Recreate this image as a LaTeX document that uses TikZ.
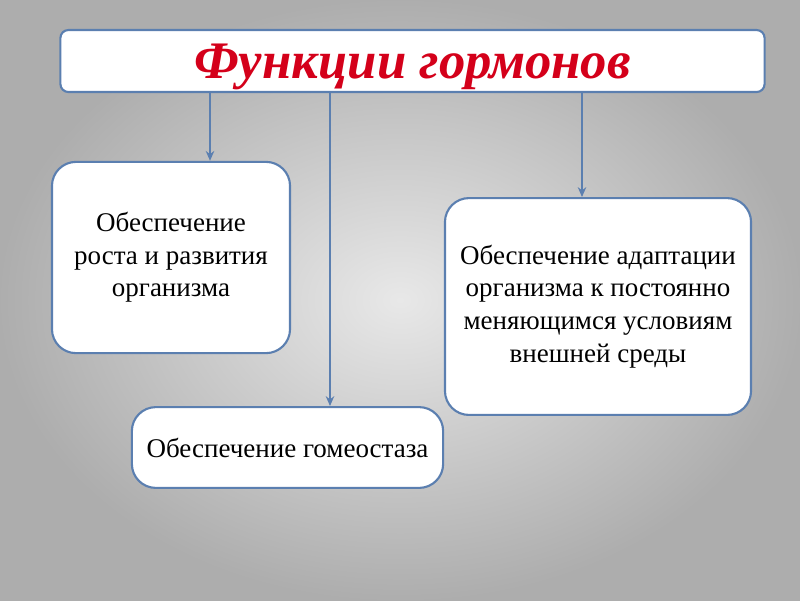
\documentclass[tikz,border=0pt]{standalone}
\usepackage{fontspec}
\usetikzlibrary{arrows.meta}
\setmainfont{Liberation Serif}
\begin{document}
\begin{tikzpicture}[x=0.025cm, y=-0.025cm,
    func/.style={rectangle, rounded corners=0.6cm, draw=frameblue, line width=1.5pt,
      fill=white, align=center, font=\fontsize{19.2}{23.2}\selectfont, inner sep=2pt}]
    \definecolor{frameblue}{HTML}{5B7FB0}
    \definecolor{titlered}{HTML}{D4001A}
    % background
    \useasboundingbox (0,0) rectangle (800,600);
    \shade[inner color=gray!18, outer color=gray!64] (0,0) rectangle (800,600);

    \node [rectangle, rounded corners=0.2cm, draw=frameblue, line width=1.5pt, fill=white,
      minimum width=17.6cm, minimum height=1.55cm, text depth=0pt,
      font=\fontsize{37.5}{40}\selectfont\bfseries\itshape, text=titlered]
      (title) at (412.5,61) {Функции гормонов};

    \begin{scope}[every node/.style={func}]
      \node [minimum width=5.95cm, minimum height=4.78cm] (growth) at (171,257.5)
        {Обеспечение\\роста и развития\\организма};
      \node [minimum width=7.65cm, minimum height=5.42cm] (adapt) at (598,306.5)
        {Обеспечение адаптации\\организма к постоянно\\меняющимся условиям\\внешней среды};
      \node [minimum width=7.78cm, minimum height=2.02cm] (homeo) at (287.5,447.5)
        {Обеспечение гомеостаза};
    \end{scope}

    \coordinate (a1) at (title.south -| 210,0);
    \coordinate (a2) at (title.south -| 330,0);
    \coordinate (a3) at (title.south -| 582,0);
    \begin{scope}[-{Stealth[length=7pt, width=6pt]}, draw=frameblue, fill=frameblue, line width=1.2pt]
      \draw (a1) -- (a1 |- growth.north);
      \draw (a2) -- (a2 |- homeo.north);
      \draw (a3) -- (a3 |- adapt.north);
    \end{scope}
  \end{tikzpicture}
\end{document}
